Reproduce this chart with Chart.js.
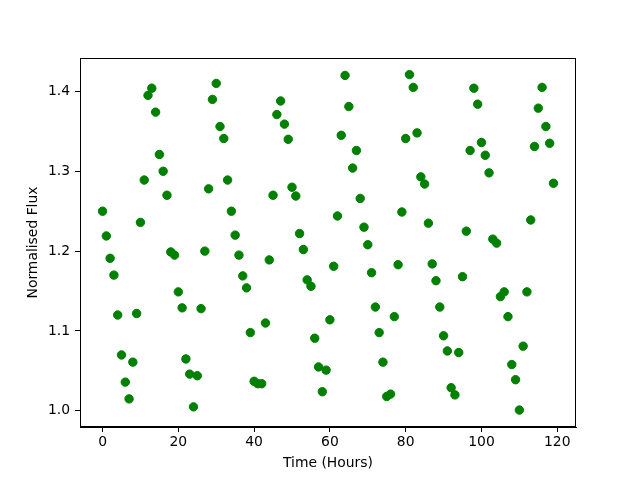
<!DOCTYPE html>
<html>
<head>
<meta charset="utf-8">
<script src="https://cdn.jsdelivr.net/npm/chart.js@4/dist/chart.umd.min.js"></script>
<style>
html,body{margin:0;padding:0;background:#fff;}
canvas{display:block;}
</style>
</head>
<body>
<canvas id="c" width="640" height="480"></canvas>
<script>
const hours = [0,1,2,3,4,5,6,7,8,9,10,11,12,13,14,15,16,17,18,19,20,21,22,23,24,25,26,27,28,29,30,31,32,33,34,35,36,37,38,39,40,41,42,43,44,45,46,47,48,49,50,51,52,53,54,55,56,57,58,59,60,61,62,63,64,65,66,67,68,69,70,71,72,73,74,75,76,77,78,79,80,81,82,83,84,85,86,87,88,89,90,91,92,93,94,95,96,97,98,99,100,101,102,103,104,105,106,107,108,109,110,111,112,113,114,115,116,117,118,119];
const flux = [1.250,1.219,1.191,1.170,1.120,1.070,1.036,1.015,1.061,1.122,
1.236,1.289,1.395,1.404,1.374,1.321,1.300,1.270,1.199,1.195,
1.149,1.129,1.065,1.046,1.005,1.044,1.128,1.200,1.278,1.390,
1.410,1.356,1.341,1.289,1.250,1.220,1.195,1.169,1.154,1.098,
1.037,1.034,1.034,1.110,1.189,1.270,1.371,1.388,1.359,1.340,
1.280,1.269,1.222,1.202,1.164,1.156,1.091,1.055,1.024,1.051,
1.114,1.181,1.244,1.345,1.420,1.381,1.304,1.326,1.266,1.230,
1.208,1.173,1.130,1.098,1.061,1.018,1.021,1.118,1.183,1.249,
1.341,1.421,1.405,1.348,1.293,1.284,1.235,1.184,1.163,1.130,
1.094,1.075,1.029,1.020,1.073,1.168,1.225,1.326,1.404,1.384,
1.336,1.320,1.298,1.215,1.210,1.143,1.149,1.118,1.058,1.039,
1.001,1.081,1.149,1.239,1.331,1.379,1.405,1.356,1.335,1.285];
const xTicks = [0,20,40,60,80,100,120];
const yTicks = [1.0,1.1,1.2,1.3,1.4];
const xLabel = 'Time (Hours)';
const yLabel = 'Normalised Flux';

const FONT = {family:'"DejaVu Sans"', size:13.9};

const frame = {
  id:'frame',
  beforeDraw(chart){
    const c=chart.ctx; c.save(); c.fillStyle='#fff'; c.fillRect(0,0,chart.width,chart.height); c.restore();
  },
  afterDraw(chart){
    const a=chart.chartArea, c=chart.ctx;
    c.save(); c.strokeStyle='#000'; c.lineWidth=1;
    c.strokeRect(Math.round(a.left)+0.5, Math.round(a.top)+0.5, Math.round(a.right-a.left)-1, Math.round(a.bottom-a.top)-1);
    c.restore();
  }
};

new Chart(document.getElementById('c'), {
  type:'scatter',
  data:{datasets:[{
    data: hours.map((h,i)=>({x:h,y:flux[i]})),
    backgroundColor:'#008000', borderColor:'#008000',
    pointRadius:4.2, pointHoverRadius:4.2, borderWidth:1
  }]},
  options:{
    responsive:false, animation:false,
    layout:{padding:{top:58,right:64,left:0,bottom:0}},
    plugins:{legend:{display:false},tooltip:{enabled:false}},
    scales:{
      x:{
        type:'linear', min:-5.95, max:124.95,
        afterBuildTicks(s){ s.ticks = xTicks.map(v=>({value:v})); },
        afterFit(s){ s.height = 53; },
        ticks:{color:'#000', font:FONT, padding:2, maxRotation:0, autoSkip:false, callback:v=>String(v)},
        grid:{display:true, drawOnChartArea:false, drawTicks:true, tickLength:5, tickColor:'#000', tickWidth:1},
        border:{display:true, color:'#000', width:1},
        title:{display:true, text:xLabel, color:'#000', font:FONT, padding:{top:0,bottom:8.6}}
      },
      y:{
        type:'linear', min:0.9798, max:1.4418,
        afterBuildTicks(s){ s.ticks = yTicks.map(v=>({value:v})); },
        afterFit(s){ s.width = 80; },
        ticks:{color:'#000', font:FONT, padding:5, autoSkip:false, callback:v=>v.toFixed(1)},
        grid:{display:true, drawOnChartArea:false, drawTicks:true, tickLength:5, tickColor:'#000', tickWidth:1},
        border:{display:true, color:'#000', width:1},
        title:{display:true, text:yLabel, color:'#000', font:FONT, padding:{top:25,bottom:0}}
      }
    }
  },
  plugins:[frame]
});
</script>
</body>
</html>
